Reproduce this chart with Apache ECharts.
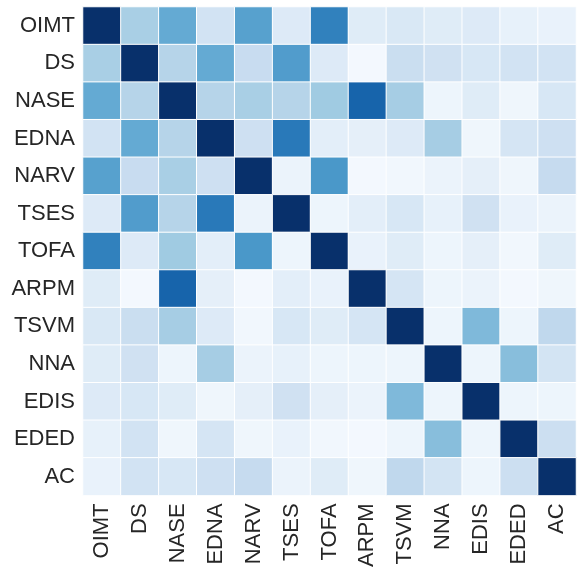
<!DOCTYPE html>
<html>
<head>
<meta charset="utf-8">
<script src="https://cdn.jsdelivr.net/npm/echarts@6/dist/echarts.min.js"></script>
<style>
  html, body { margin: 0; padding: 0; background: #fff; }
  #chart { width: 578px; height: 570px; }
</style>
</head>
<body>
<div id="chart"></div>
<script>
const labels = ['OIMT', 'DS', 'NASE', 'EDNA', 'NARV', 'TSES', 'TOFA', 'ARPM', 'TSVM', 'NNA', 'EDIS', 'EDED', 'AC']

// correlation matrix, read row by row (top to bottom)
const rowOIMT = [1.00, 0.34, 0.52, 0.19, 0.56, 0.13, 0.69, 0.12, 0.15, 0.12, 0.13, 0.08, 0.07]
const rowDS   = [0.34, 1.00, 0.30, 0.52, 0.24, 0.58, 0.13, 0.02, 0.23, 0.20, 0.16, 0.19, 0.19]
const rowNASE = [0.52, 0.30, 1.00, 0.30, 0.34, 0.30, 0.37, 0.80, 0.35, 0.05, 0.12, 0.04, 0.16]
const rowEDNA = [0.19, 0.52, 0.30, 1.00, 0.21, 0.72, 0.10, 0.09, 0.13, 0.35, 0.04, 0.17, 0.21]
const rowNARV = [0.56, 0.24, 0.34, 0.21, 1.00, 0.06, 0.60, 0.02, 0.03, 0.06, 0.09, 0.04, 0.25]
const rowTSES = [0.13, 0.58, 0.30, 0.72, 0.06, 1.00, 0.05, 0.10, 0.16, 0.08, 0.20, 0.07, 0.06]
const rowTOFA = [0.69, 0.13, 0.37, 0.10, 0.60, 0.05, 1.00, 0.07, 0.12, 0.05, 0.09, 0.03, 0.12]
const rowARPM = [0.12, 0.02, 0.80, 0.09, 0.02, 0.10, 0.07, 1.00, 0.17, 0.05, 0.06, 0.02, 0.04]
const rowTSVM = [0.15, 0.23, 0.35, 0.13, 0.03, 0.16, 0.12, 0.17, 1.00, 0.05, 0.45, 0.05, 0.27]
const rowNNA  = [0.12, 0.20, 0.05, 0.35, 0.06, 0.08, 0.05, 0.05, 0.05, 1.00, 0.05, 0.43, 0.18]
const rowEDIS = [0.13, 0.16, 0.12, 0.04, 0.09, 0.20, 0.09, 0.06, 0.45, 0.05, 1.00, 0.05, 0.05]
const rowEDED = [0.08, 0.19, 0.04, 0.17, 0.04, 0.07, 0.03, 0.02, 0.05, 0.43, 0.05, 1.00, 0.22]
const rowAC   = [0.07, 0.19, 0.16, 0.21, 0.25, 0.06, 0.12, 0.04, 0.27, 0.18, 0.05, 0.22, 1.00]

const rows = [rowOIMT, rowDS, rowNASE, rowEDNA, rowNARV, rowTSES, rowTOFA, rowARPM, rowTSVM, rowNNA, rowEDIS, rowEDED, rowAC]

// matplotlib "Blues"
const blues = ['#f7fbff', '#deebf7', '#c6dbef', '#9ecae1', '#6baed6', '#4292c6', '#2171b5', '#08519c', '#08306b']

const cells = []
rows.forEach((row, i) => {
  row.forEach((v, j) => {
    cells.push([j, i, v])
  })
})

const chart = echarts.init(document.getElementById('chart'))

chart.setOption({
  animation: false,
  grid: {
    left: 83,
    top: 7,
    width: 493,
    height: 493
  },
  xAxis: {
    type: 'category',
    data: labels,
    axisLine: { show: false },
    axisTick: { show: false },
    splitLine: { show: false },
    axisLabel: {
      rotate: 90,
      margin: 8,
      fontSize: 22,
      color: '#262626',
      fontFamily: 'Liberation Sans'
    }
  },
  yAxis: {
    type: 'category',
    data: labels,
    inverse: true,
    axisLine: { show: false },
    axisTick: { show: false },
    splitLine: { show: false },
    axisLabel: {
      margin: 8,
      fontSize: 22,
      color: '#262626',
      fontFamily: 'Liberation Sans'
    }
  },
  visualMap: {
    show: false,
    min: 0,
    max: 1,
    dimension: 2,
    inRange: { color: blues }
  },
  series: [
    {
      type: 'heatmap',
      data: cells,
      itemStyle: {
        borderColor: '#fff',
        borderWidth: 1
      },
      emphasis: { disabled: true }
    }
  ]
})
</script>
</body>
</html>
